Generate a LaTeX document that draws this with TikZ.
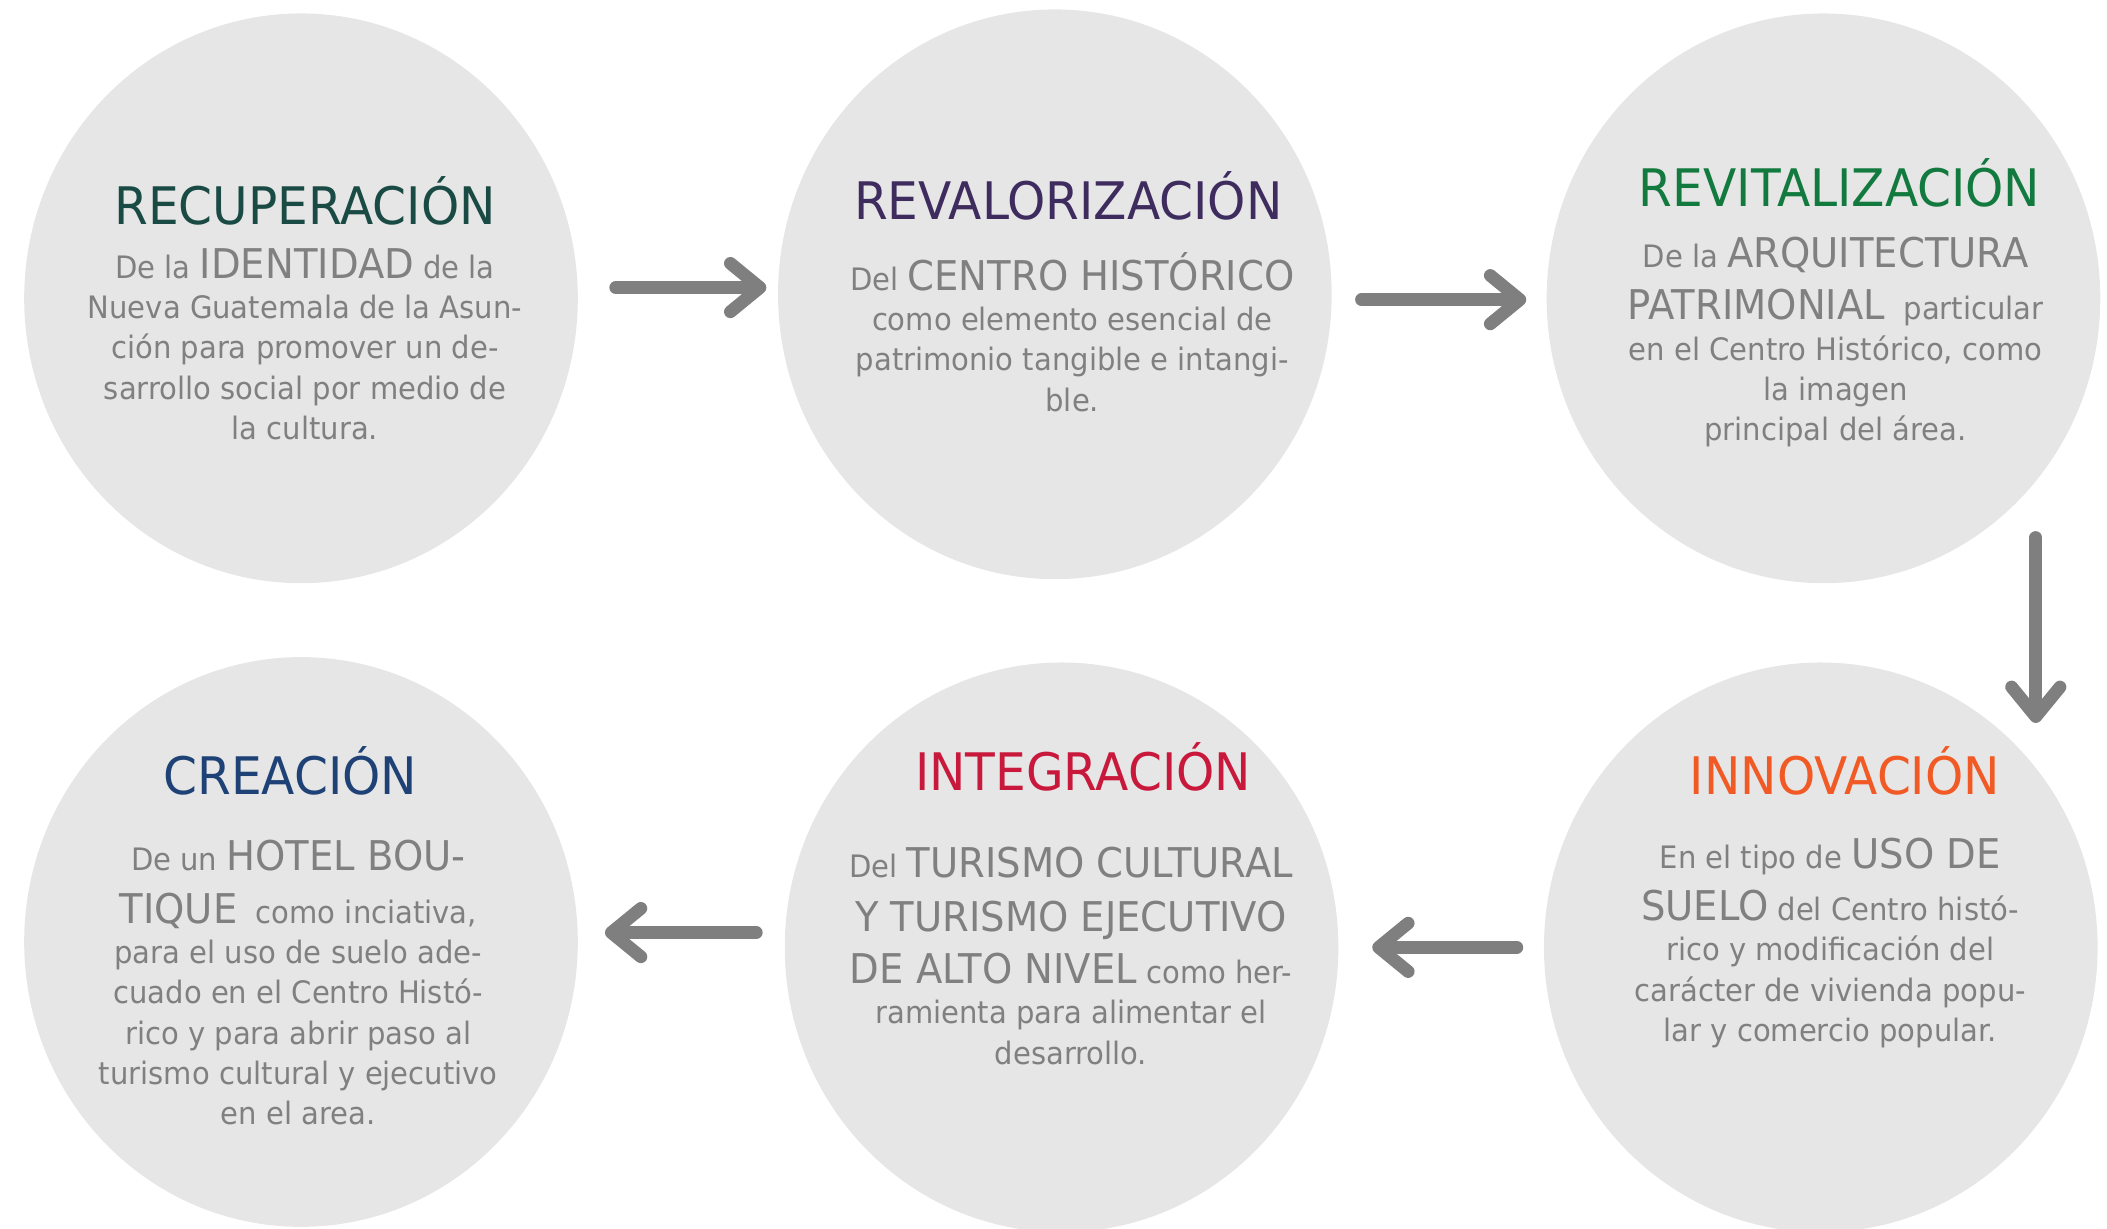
\documentclass[tikz,border=0pt]{standalone}
\usepackage{fontspec}
\setmainfont{DejaVu Sans}[FakeStretch=0.94]
\usetikzlibrary{shapes.geometric,arrows.meta}
\definecolor{circlegray}{HTML}{E6E6E6}
\definecolor{textgray}{HTML}{808080}
\definecolor{arrowgray}{HTML}{7F7F7F}
\definecolor{recupcolor}{HTML}{1A4A44}
\definecolor{revalcolor}{HTML}{3E2C5E}
\definecolor{revitcolor}{HTML}{127A3E}
\definecolor{creaccolor}{HTML}{1F4276}
\definecolor{integcolor}{HTML}{C8193C}
\definecolor{innovcolor}{HTML}{F15A24}
\newcommand{\keyword}[1]{{\fontsize{30.5}{30}\selectfont #1}}
\newcommand{\stagefont}{\fontsize{23}{30}\selectfont\setlength{\lineskiplimit}{-100pt}}
\tikzset{
  stage/.style={ellipse, fill=circlegray, minimum width=412pt, minimum height=424pt, inner sep=0pt},
  stagetitle/.style={anchor=base, inner sep=0pt, font=\fontsize{38.5}{40}\selectfont},
  stagetext/.style={anchor=base, align=center, text=textgray, inner sep=0pt, font=\stagefont},
  flow/.style={draw=arrowgray, line width=9.5pt, line cap=round, -{Straight Barb[round, length=22pt, width=36pt]}}
}
\begin{document}
\begin{tikzpicture}[x=1pt, y=-1pt]
    \useasboundingbox (0,0) rectangle (1568,914);
    % Stages
    \foreach \name/\x/\y in {recup/224/222, reval/785/219, revit/1357/222, creac/224/701, integ/790/705, innov/1355/705}
        \node[stage] (\name) at (\x,\y) {};
    % Titles
    \foreach \col/\x/\y/\txt in {recupcolor/227/167/RECUPERACIÓN, revalcolor/795/163/REVALORIZACIÓN, revitcolor/1369/154/REVITALIZACIÓN, creaccolor/216/591/CREACIÓN, integcolor/806/588/INTEGRACIÓN, innovcolor/1373/591/INNOVACIÓN}
        \node[stagetitle, text=\col] at (\x,\y) {\txt};
    % Texts (anchored at the last line)
    \node[stagetext] (recuptext) at (227,327) {De la \keyword{IDENTIDAD} de la\\ Nueva Guatemala de la Asun-\\ ción para promover un de-\\ sarrollo social por medio de\\ la cultura.};
    \node[stagetext] (revaltext) at (798,306) {Del \keyword{CENTRO HISTÓRICO}\\ como elemento esencial de\\ patrimonio tangible e intangi-\\ ble.};
    \node[stagetext] (revittext) at (1366,328) {De la \keyword{ARQUITECTURA}\\[9pt] \keyword{PATRIMONIAL}\ \ particular\\ en el Centro Histórico, como\\ la imagen\\ principal del área.};
    \node[stagetext] (creactext) at (222,837) {De un \keyword{HOTEL BOU-}\\[9pt] \keyword{TIQUE}\ \ como inciativa,\\ para el uso de suelo ade-\\ cuado en el Centro Histó-\\ rico y para abrir paso al\\ turismo cultural y ejecutivo\\ en el area.};
    \node[stagetext] (integtext) at (797,792) {Del \keyword{TURISMO CULTURAL}\\[10pt] \keyword{Y TURISMO EJECUTIVO}\\[9pt] \keyword{DE ALTO NIVEL} como her-\\ ramienta para alimentar el\\ desarrollo.};
    \node[stagetext] (innovtext) at (1362,775) {En el tipo de \keyword{USO DE}\\[9pt] \keyword{SUELO} del Centro histó-\\ rico y modificación del\\ carácter de vivienda popu-\\ lar y comercio popular.};
    % Flow
    \draw[flow, shorten <=28pt, shorten >=8.5pt] ([yshift=8pt]recup.east) -- ([yshift=8pt]recup.east -| reval.west);
    \draw[flow, shorten <=22pt, shorten >=15pt] ([yshift=-4pt]reval.east) -- ([yshift=-4pt]reval.east -| revit.west);
    \coordinate (drop) at (1515,400);
    \coordinate (land) at (1515,538);
    \draw[flow] (drop) -- (land);
    \draw[flow, shorten <=20pt, shorten >=25pt] (innov.west) -- (integ.east);
    \draw[flow, shorten <=21pt, shorten >=20pt] ([yshift=11pt]integ.west) -- ([yshift=11pt]integ.west -| creac.east);
\end{tikzpicture}
\end{document}
